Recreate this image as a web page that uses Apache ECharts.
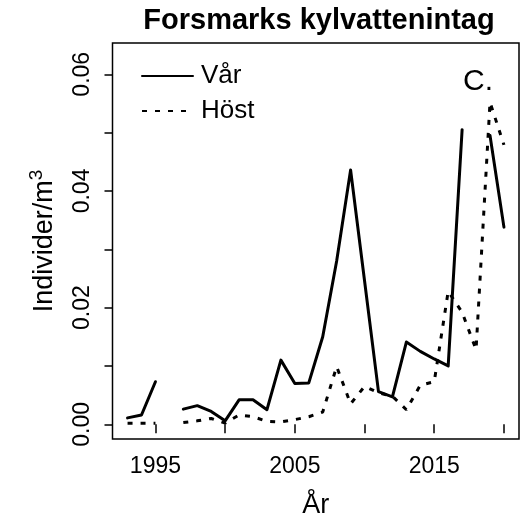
<!DOCTYPE html>
<html>
<head>
<meta charset="utf-8">
<script src="https://cdn.jsdelivr.net/npm/echarts@6/dist/echarts.min.js"></script>
<style>
html, body { margin: 0; padding: 0; background: #fff; }
#chart { width: 526px; height: 518px; }
</style>
</head>
<body>
<div id="chart"></div>
<script>
// år 1993-2020
const years = [1993, 1994, 1995, 1996, 1997, 1998, 1999, 2000, 2001, 2002,
    2003, 2004, 2005, 2006, 2007, 2008, 2009, 2010, 2011, 2012,
    2013, 2014, 2015, 2016, 2017, 2018, 2019, 2020];
// vårprover (null = saknas)
const varValues = [0.0011, 0.0016, 0.0073, null, 0.0026, 0.0032, 0.0022, 0.0006, 0.0042, 0.0042,
    0.0025, 0.0110, 0.0070, 0.0071, 0.0150, 0.0280, 0.0436, 0.0246, 0.0056, 0.0047,
    0.0141, 0.0125, 0.0112, 0.0100, 0.0505, null, 0.0495, 0.0338];
// höstprover
const hostValues = [0.0002, 0.0002, 0.0002, null, 0.0003, 0.0006, 0.0010, 0.0002, 0.0016, 0.0013,
    0.0005, 0.0004, 0.0008, 0.0013, 0.0021, 0.0099, 0.0035, 0.0065, 0.0054, 0.0048,
    0.0025, 0.0067, 0.0073, 0.0228, 0.0192, 0.0128, 0.0552, 0.0479];
// axlar
const xTicks = [1995, 2000, 2005, 2010, 2015, 2020];
const xLabels = [1995, 2005, 2015];
const yTicks = [0, 0.01, 0.02, 0.03, 0.04, 0.05, 0.06];
const yLabels = [0, 0.02, 0.04, 0.06];

const FONT = 'Liberation Sans';
const pairs = (vals) => years.map((y, i) => [y, vals[i]]);

const chart = echarts.init(document.getElementById('chart'));
chart.setOption({
    animation: false,
    backgroundColor: '#fff',
    textStyle: { fontFamily: FONT, color: '#000' },
    title: {
        text: 'Forsmarks kylvattenintag',
        left: 314,
        top: 1,
        textAlign: 'center',
        textStyle: { fontFamily: FONT, fontSize: 29, fontWeight: 'bold', color: '#000' }
    },
    grid: {
        left: 112.5, right: 7, top: 43, bottom: 79,
        outerBoundsMode: 'none',
        containLabel: false,
        show: true, borderColor: '#000', borderWidth: 1.5, backgroundColor: 'transparent'
    },
    legend: {
        data: ['Vår', 'Höst'],
        orient: 'vertical',
        left: 136,
        top: 58,
        itemWidth: 51,
        itemHeight: 14,
        itemGap: 9,
        itemStyle: { opacity: 0 },
        textStyle: { fontFamily: FONT, fontSize: 26, color: '#000', padding: [0, 0, 0, 3], lineHeight: 26 }
    },
    xAxis: {
        type: 'value',
        min: 1991.92,
        max: 2021.08,
        name: 'År',
        nameLocation: 'middle',
        nameGap: 53,
        nameTextStyle: { fontFamily: FONT, fontSize: 27, color: '#000' },
        axisLine: { show: false },
        splitLine: { show: false },
        axisTick: { show: true, length: 9, customValues: xTicks, lineStyle: { color: '#000', width: 1.5 } },
        axisLabel: {
            customValues: xLabels, margin: 16, fontFamily: FONT, fontSize: 23, color: '#000',
            formatter: (v) => String(v)
        }
    },
    yAxis: {
        type: 'value',
        min: -0.00252,
        max: 0.06536,
        name: 'Individer/m{sup|3}',
        nameLocation: 'middle',
        nameGap: 51,
        nameRotate: 90,
        nameTextStyle: {
            fontFamily: FONT, fontSize: 27, color: '#000', lineHeight: 34,
            rich: { sup: { fontFamily: FONT, fontSize: 19, color: '#000', verticalAlign: 'top', lineHeight: 34 } }
        },
        axisLine: { show: false },
        splitLine: { show: false },
        axisTick: { show: true, length: 8, customValues: yTicks, lineStyle: { color: '#000', width: 1.5 } },
        axisLabel: {
            customValues: yLabels, rotate: 90, margin: 18,
            fontFamily: FONT, fontSize: 23, color: '#000',
            formatter: (v) => v.toFixed(2)
        }
    },
    series: [
        {
            name: 'Vår',
            type: 'line',
            data: pairs(varValues),
            symbol: 'none',
            connectNulls: false,
            lineStyle: { color: '#000', width: 3, cap: 'round', join: 'round' },
            itemStyle: { color: '#000' }
        },
        {
            name: 'Höst',
            type: 'line',
            data: pairs(hostValues),
            symbol: 'none',
            connectNulls: false,
            lineStyle: { color: '#000', width: 3, type: [5, 8], cap: 'butt' },
            itemStyle: { color: '#000' }
        }
    ],
    graphic: [{
        type: 'text',
        left: 463,
        top: 67,
        style: { text: 'C.', fontFamily: FONT, fontSize: 30, fill: '#000' }
    }]
});
</script>
</body>
</html>
